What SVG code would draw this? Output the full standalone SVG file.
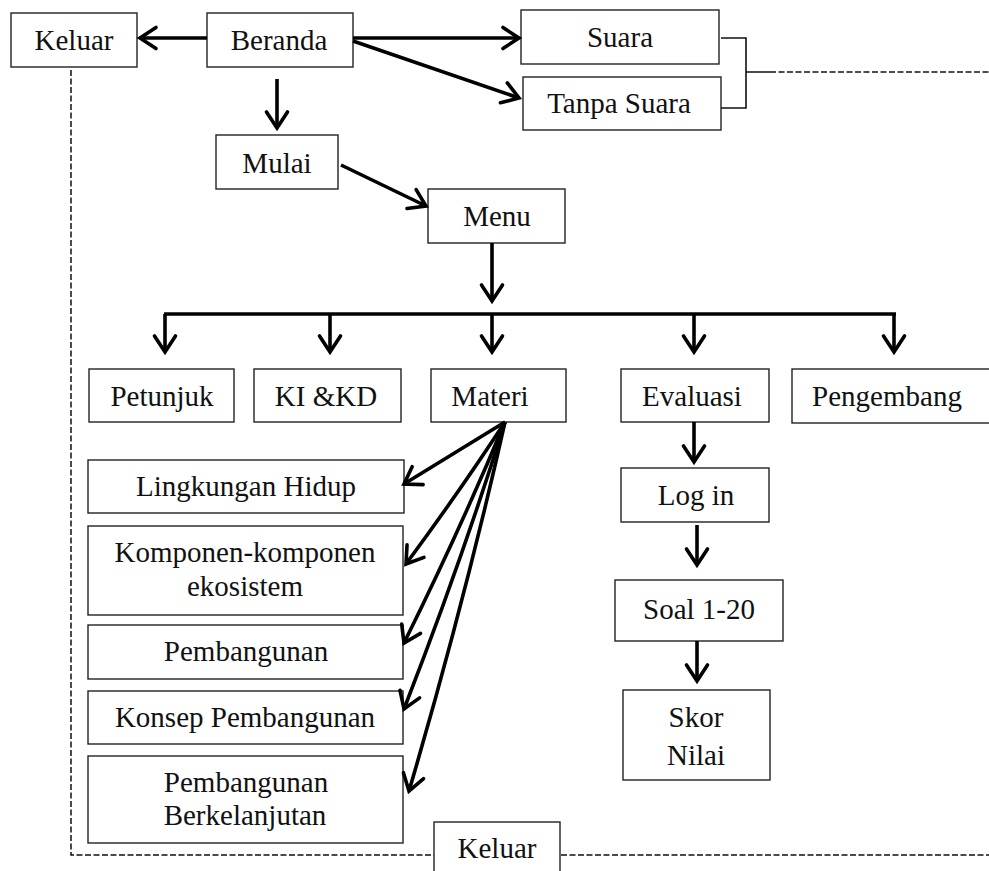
<svg xmlns="http://www.w3.org/2000/svg" width="989" height="871" viewBox="0 0 989 871">
<style>
.box{fill:#fff;stroke:#222;stroke-width:1.4}
.t{font-family:"Liberation Serif","Times New Roman",serif;font-size:29px;fill:#111;text-anchor:middle}
.ar{fill:none;stroke:#000;stroke-width:3.6;marker-end:url(#ah)}
.thin{fill:none;stroke:#111;stroke-width:1.6}
.dash{fill:none;stroke:#111;stroke-width:1.5;stroke-dasharray:6 2.5}
</style>
<defs>
<marker id="ah" markerUnits="userSpaceOnUse" markerWidth="26" markerHeight="26" refX="0" refY="0" viewBox="-21 -13 26 26" orient="auto">
<path d="M-16,-10.5 L0,0 L-16,10.5" fill="none" stroke="#000" stroke-width="3.6" stroke-linejoin="miter" stroke-linecap="round"/>
</marker>
</defs>
<rect width="989" height="871" fill="#fff"/>
<g id="keluar-top"><rect class="box" x="11" y="13" width="126" height="54"/><text class="t" x="74" y="50">Keluar</text></g>
<g id="beranda"><rect class="box" x="207" y="13" width="146" height="54"/><text class="t" x="279" y="50">Beranda</text></g>
<g id="suara"><rect class="box" x="521" y="10" width="198" height="54"/><text class="t" x="620" y="47">Suara</text></g>
<g id="tanpa-suara"><rect class="box" x="523" y="77" width="198" height="53"/><text class="t" x="619" y="113">Tanpa Suara</text></g>
<g id="mulai"><rect class="box" x="216" y="135" width="122" height="54"/><text class="t" x="277" y="173">Mulai</text></g>
<g id="menu"><rect class="box" x="428" y="189" width="137" height="54"/><text class="t" x="497" y="226">Menu</text></g>
<g id="petunjuk"><rect class="box" x="89" y="369" width="145" height="53"/><text class="t" x="162" y="406">Petunjuk</text></g>
<g id="kikd"><rect class="box" x="254" y="369" width="147" height="53"/><text class="t" x="326" y="406">KI &amp;KD</text></g>
<g id="materi"><rect class="box" x="431" y="369" width="135" height="53"/><text class="t" x="490" y="406">Materi</text></g>
<g id="evaluasi"><rect class="box" x="621" y="369" width="148" height="53"/><text class="t" x="692" y="406">Evaluasi</text></g>
<g id="pengembang"><rect class="box" x="792" y="369" width="210" height="54"/><text class="t" x="887" y="406">Pengembang</text></g>
<g id="lingkungan"><rect class="box" x="88" y="460" width="316" height="53"/><text class="t" x="246" y="496">Lingkungan Hidup</text></g>
<g id="komponen"><rect class="box" x="88" y="526" width="315" height="89"/><text class="t" x="245" y="562">Komponen-komponen</text><text class="t" x="245" y="596">ekosistem</text></g>
<g id="pembangunan"><rect class="box" x="88" y="625" width="315" height="54"/><text class="t" x="246" y="661">Pembangunan</text></g>
<g id="konsep"><rect class="box" x="88" y="691" width="315" height="53"/><text class="t" x="245" y="727">Konsep Pembangunan</text></g>
<g id="berkelanjutan"><rect class="box" x="88" y="756" width="315" height="87"/><text class="t" x="246" y="792">Pembangunan</text><text class="t" x="245" y="825">Berkelanjutan</text></g>
<g id="login"><rect class="box" x="621" y="468" width="148" height="54"/><text class="t" x="696" y="505">Log in</text></g>
<g id="soal"><rect class="box" x="615" y="580" width="168" height="61"/><text class="t" x="699" y="619">Soal 1-20</text></g>
<g id="skor"><rect class="box" x="623" y="690" width="147" height="90"/><text class="t" x="696" y="727">Skor</text><text class="t" x="696" y="765">Nilai</text></g>
<g id="connectors">
<path class="dash" d="M71,70 V855 H989"/>
<path class="dash" d="M770,72 H989"/>
<path class="thin" d="M721,38 H746 V108 H721 M746,72 H770"/>
<line class="ar" x1="207" y1="38" x2="140" y2="38"/>
<line class="ar" x1="353" y1="38" x2="519" y2="38"/>
<line class="ar" x1="353" y1="41" x2="519" y2="98"/>
<line class="ar" x1="277" y1="79" x2="277" y2="128"/>
<line class="ar" x1="341" y1="165" x2="426" y2="206"/>
<line class="ar" x1="492" y1="243" x2="492" y2="301"/>
<line x1="164" y1="314" x2="896" y2="314" stroke="#000" stroke-width="3.6"/>
<line class="ar" x1="165" y1="314" x2="165" y2="352"/>
<line class="ar" x1="330" y1="314" x2="330" y2="352"/>
<line class="ar" x1="492" y1="314" x2="492" y2="352"/>
<line class="ar" x1="694" y1="314" x2="694" y2="352"/>
<line class="ar" x1="894" y1="314" x2="894" y2="352"/>
<line class="ar" x1="694" y1="422" x2="694" y2="462"/>
<line class="ar" x1="697" y1="525" x2="697" y2="565"/>
<line class="ar" x1="697" y1="641" x2="697" y2="681"/>
<path class="ar" d="M505,422 L404,484"/>
<path class="ar" d="M505,422 Q462,488 406,564"/>
<path class="ar" d="M505,422 Q460,530 404,643"/>
<path class="ar" d="M505,422 Q462,560 404,709"/>
<path class="ar" d="M505,422 Q465,600 409,791"/>
</g>
<g id="keluar-bottom"><rect class="box" x="434" y="822" width="126" height="58"/><text class="t" x="497" y="858">Keluar</text></g>
</svg>
